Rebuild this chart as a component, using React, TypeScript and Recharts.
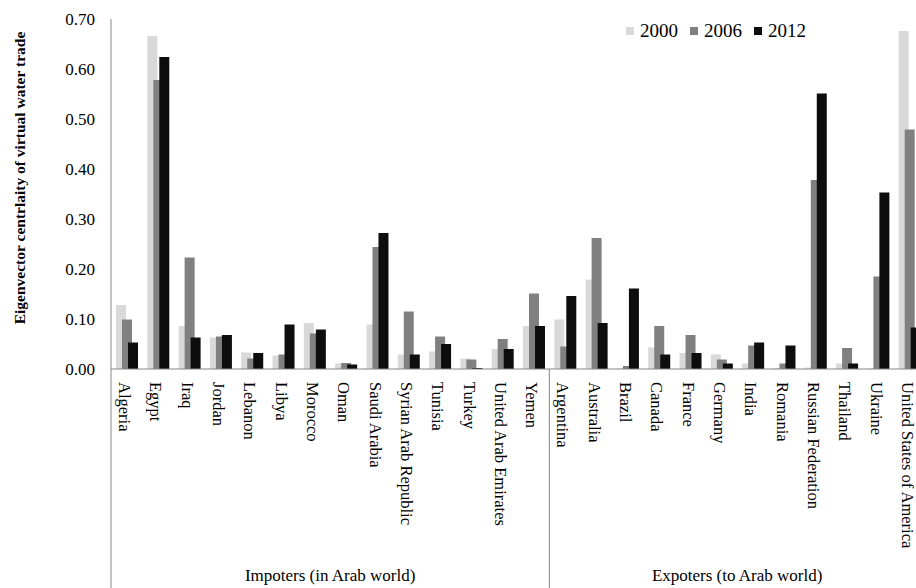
import React from "react"
import { BarChart, Bar, XAxis, YAxis, Legend } from "recharts"

// ── Data ───────────────────────────────────────────────────────────────────

const CATEGORIES = [
  "Algeria", "Egypt", "Iraq", "Jordan", "Lebanon", "Libya", "Morocco", "Oman",
  "Saudi Arabia", "Syrian Arab Republic", "Tunisia", "Turkey", "United Arab Emirates", "Yemen",
  "Argentina", "Australia", "Brazil", "Canada", "France", "Germany", "India", "Romania",
  "Russian Federation", "Thailand", "Ukraine", "United States of America",
]

const V2000 = [
  0.128, 0.666, 0.086, 0.063, 0.033, 0.027, 0.092, 0.011, 0.089, 0.029, 0.035, 0.021, 0.040, 0.086,
  0.099, 0.179, 0.001, 0.043, 0.032, 0.029, 0.011, 0.002, 0.003, 0.011, 0.001, 0.676,
]
const V2006 = [
  0.099, 0.578, 0.223, 0.065, 0.021, 0.029, 0.071, 0.012, 0.244, 0.115, 0.065, 0.019, 0.060, 0.151,
  0.045, 0.262, 0.006, 0.086, 0.068, 0.019, 0.047, 0.011, 0.378, 0.042, 0.185, 0.479,
]
const V2012 = [
  0.053, 0.624, 0.063, 0.068, 0.032, 0.089, 0.079, 0.009, 0.272, 0.029, 0.050, 0.002, 0.040, 0.086,
  0.146, 0.092, 0.161, 0.029, 0.032, 0.011, 0.053, 0.047, 0.551, 0.011, 0.353, 0.083,
]

const Y_TICKS = [0, 0.1, 0.2, 0.3, 0.4, 0.5, 0.6, 0.7]

const GROUPS = [
  { label: "Impoters (in Arab world)", start: 0, count: 14 },
  { label: "Expoters (to Arab world)", start: 14, count: 12 },
]

const data = CATEGORIES.map((name, i) => ({
  name,
  y2000: V2000[i],
  y2006: V2006[i],
  y2012: V2012[i],
}))

// ── Design tokens ──────────────────────────────────────────────────────────

const FONT = '"Liberation Serif", "Times New Roman", serif'
const AXIS_COLOR = "#868686"
const C2000 = "#d9d9d9"
const C2006 = "#808080"
const C2012 = "#0d0d0d"

const CHART_W = 940
const CHART_H = 588
const MARGIN = { top: 19, right: 15, left: 51, bottom: 0 }
const BAND = (CHART_W - MARGIN.left - 60 - MARGIN.right) / CATEGORIES.length

// ── Custom pieces ──────────────────────────────────────────────────────────

function CategoryTick(props: any) {
  const { x, y, payload, index } = props
  const half = payload?.offset ?? BAND / 2
  const axisY = y - 8
  const lx = x - 2
  const starts = GROUPS.filter((g) => g.start === index)
  const mids = GROUPS.filter((g) => g.start + Math.floor(g.count / 2) - 1 === index)
  return (
    <g>
      <text
        x={lx}
        y={axisY + 13}
        transform={`rotate(90, ${lx}, ${axisY + 13})`}
        textAnchor="start"
        dominantBaseline="central"
        fontFamily={FONT}
        fontSize={16.5}
        fill="#000"
      >
        {payload.value}
      </text>
      {starts.map((g) => (
        <line key={g.label} x1={x - half} x2={x - half} y1={axisY} y2={CHART_H} stroke={AXIS_COLOR} />
      ))}
      {mids.map((g) => (
        <text
          key={g.label}
          x={g.count % 2 === 0 ? x + half : x}
          y={581}
          textAnchor="middle"
          fontFamily={FONT}
          fontSize={17}
          fill="#000"
        >
          {g.label}
        </text>
      ))}
    </g>
  )
}

function YLabel() {
  return (
    <text
      x={19}
      y={178}
      transform="rotate(-90, 19, 178)"
      textAnchor="middle"
      dominantBaseline="central"
      fontFamily={FONT}
      fontWeight="bold"
      fontSize={15.5}
      fill="#000"
    >
      Eigenvector centrlaity of virtual water trade
    </text>
  )
}

function LegendContent({ payload }: any) {
  return (
    <div style={{ display: "flex", fontFamily: FONT, fontSize: 19, color: "#000", lineHeight: "20px" }}>
      {(payload ?? []).map((p: any) => (
        <span key={p.value} style={{ display: "flex", alignItems: "center", marginRight: 12 }}>
          <span style={{ width: 8, height: 8, background: p.color, marginRight: 6, display: "inline-block" }} />
          {p.value}
        </span>
      ))}
    </div>
  )
}

// ── Chart ──────────────────────────────────────────────────────────────────

export default function App() {
  return (
    <div
      style={{
        position: "absolute",
        left: 0,
        top: 0,
        width: 916,
        height: 588,
        overflow: "hidden",
        background: "#fff",
      }}
    >
      <BarChart
        width={CHART_W}
        height={CHART_H}
        data={data}
        margin={MARGIN}
        barSize={10}
        barGap={-4}
      >
        <XAxis
          dataKey="name"
          interval={0}
          height={219}
          axisLine={{ stroke: AXIS_COLOR }}
          tickLine={false}
          tickMargin={2}
          tick={<CategoryTick />}
        />
        <YAxis
          domain={[0, 0.7]}
          ticks={Y_TICKS}
          width={60}
          axisLine={{ stroke: AXIS_COLOR }}
          tickLine={false}
          tickMargin={10}
          tickFormatter={(v: number) => v.toFixed(2)}
          tick={{ fontFamily: FONT, fontSize: 17, fill: "#000" }}
          label={<YLabel />}
        />
        <Legend
          layout="horizontal"
          verticalAlign="middle"
          align="center"
          wrapperStyle={{ top: 21, left: 626, width: "auto" }}
          content={<LegendContent />}
        />
        <Bar dataKey="y2000" name="2000" fill={C2000} isAnimationActive={false} />
        <Bar dataKey="y2006" name="2006" fill={C2006} isAnimationActive={false} />
        <Bar dataKey="y2012" name="2012" fill={C2012} isAnimationActive={false} />
      </BarChart>
    </div>
  )
}
